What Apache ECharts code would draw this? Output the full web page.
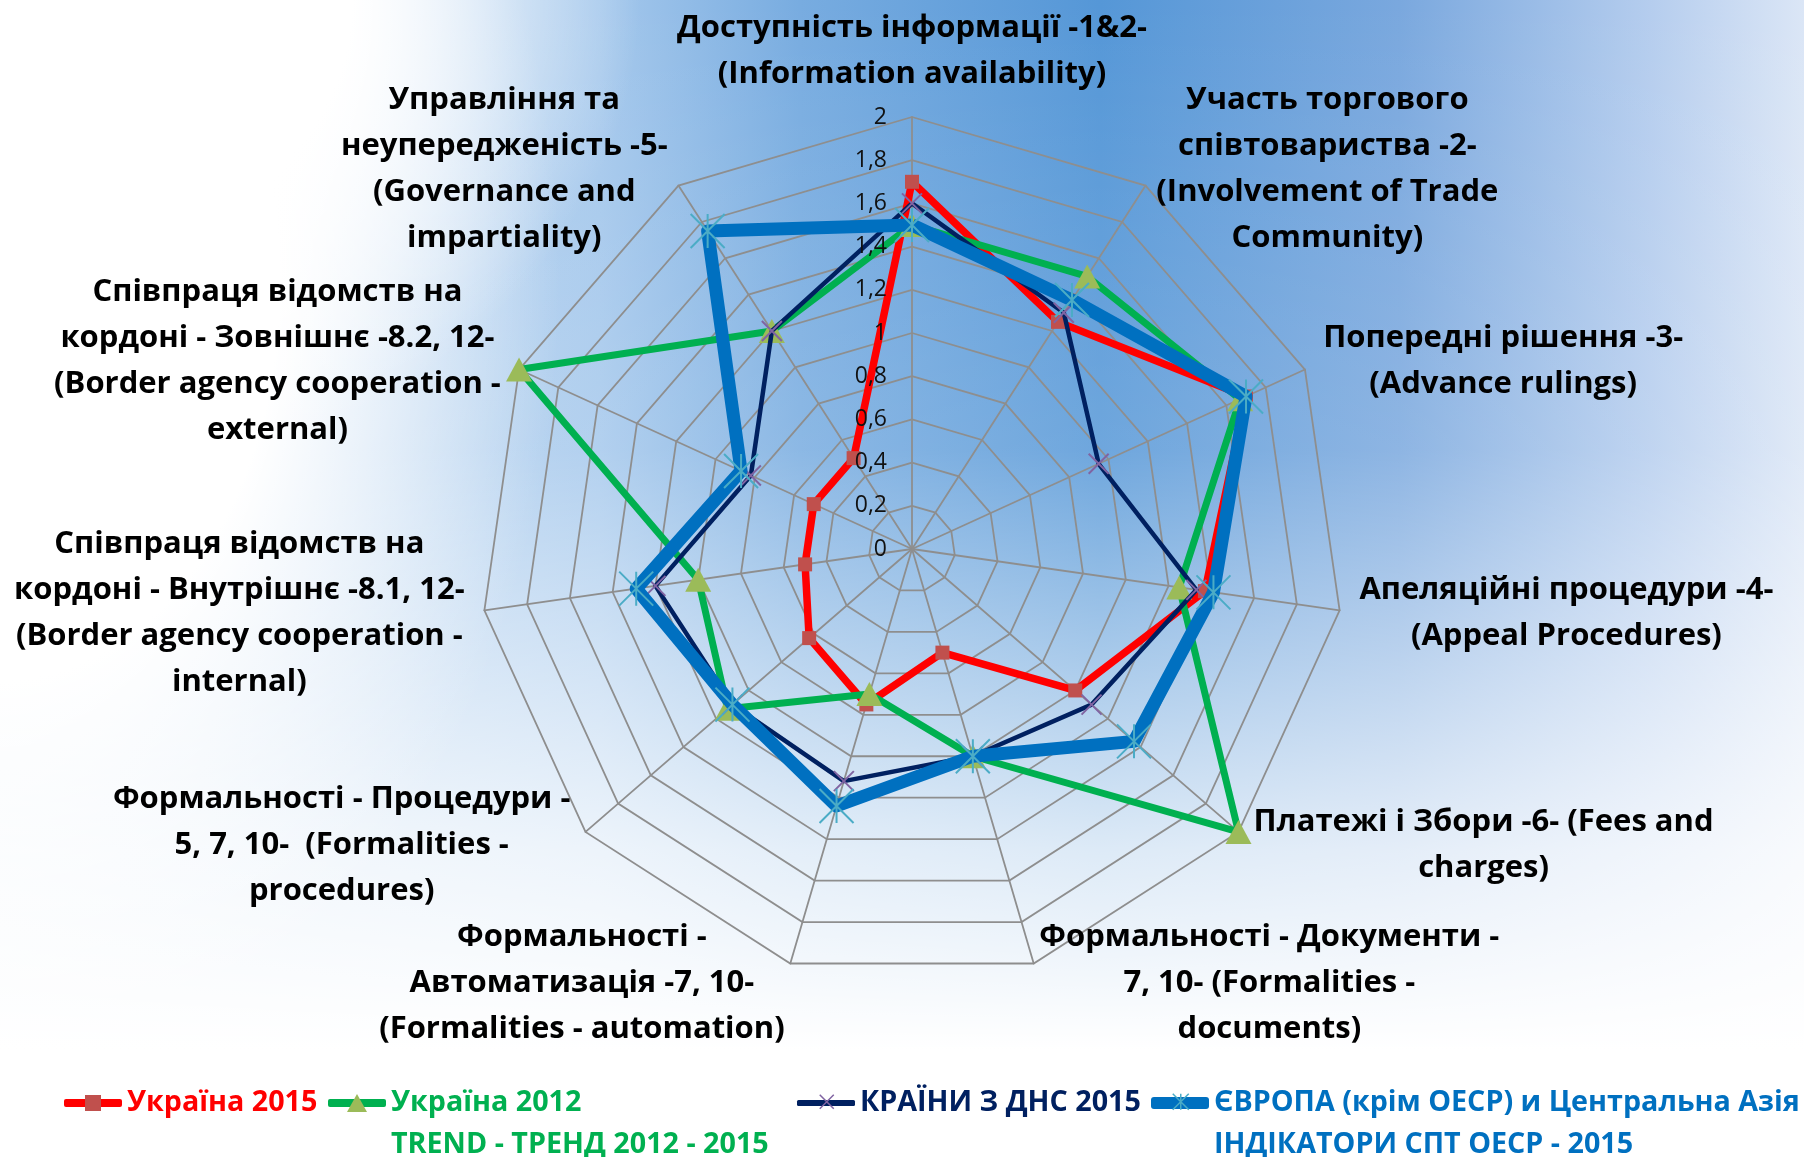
<!DOCTYPE html>
<html>
<head>
<meta charset="utf-8">
<script src="https://cdn.jsdelivr.net/npm/echarts@6/dist/echarts.min.js"></script>
<style>
html, body { margin: 0; padding: 0; }
#chart {
  width: 1804px; height: 1157px;
  background:
    radial-gradient(ellipse 640px 500px at 0px 0px, rgba(255,255,255,1) 0%, rgba(255,255,255,1) 55%, rgba(255,255,255,0) 100%),
    radial-gradient(ellipse 560px 800px at 0px 280px, rgba(255,255,255,1) 0%, rgba(255,255,255,1) 50%, rgba(255,255,255,0) 100%),
    linear-gradient(to bottom, rgba(255,255,255,0) 0px, rgba(255,255,255,0.15) 450px, rgba(255,255,255,0.8) 850px, rgba(255,255,255,1) 1050px, #fff 1157px),
    linear-gradient(to right, #d8e7f6 0px, #a5c8ec 600px, #78ace0 800px, #5597d7 1100px, #7aa8de 1400px, #b5cdee 1650px, #dbe6f6 1804px);
}
</style>
</head>
<body>
<div id="chart"></div>
<script>
// Axis categories (clockwise from the top)
const categories = [
  'Доступність інформації -1&2-\n(Information availability)',
  'Участь торгового\nспівтовариства -2-\n(Involvement of Trade\nCommunity)',
  'Попередні рішення -3-\n(Advance rulings)',
  'Апеляційні процедури -4-\n(Appeal Procedures)',
  'Платежі і Збори -6- (Fees and\ncharges)',
  'Формальності - Документи -\n7, 10- (Formalities -\ndocuments)',
  'Формальності -\nАвтоматизація -7, 10-\n(Formalities - automation)',
  'Формальності - Процедури -\n5, 7, 10-  (Formalities -\nprocedures)',
  'Співпраця відомств на\nкордоні - Внутрішнє -8.1, 12-\n(Border agency cooperation -\ninternal)',
  'Співпраця відомств на\nкордоні - Зовнішнє -8.2, 12-\n(Border agency cooperation -\nexternal)',
  'Управління та\nнеупередженість -5-\n(Governance and\nimpartiality)'
];

const seriesNames = ['Україна 2015', 'Україна 2012', 'КРАЇНИ З ДНС 2015', 'ЄВРОПА (крім ОЕСР) и Центральна Азія'];
const legendNotes = ['', 'TREND - ТРЕНД 2012 - 2015', '', 'ІНДІКАТОРИ СПТ ОЕСР - 2015'];

// Values (clockwise from the top)
const ukraine2015     = [1.70, 1.25, 1.70, 1.37, 1.00, 0.50, 0.75, 0.63, 0.50, 0.50, 0.50];
const ukraine2012     = [1.50, 1.50, 1.67, 1.25, 2.00, 1.00, 0.70, 1.13, 1.00, 2.00, 1.20];
const dcCountries2015 = [1.60, 1.30, 0.95, 1.33, 1.10, 1.00, 1.12, 1.10, 1.20, 0.82, 1.20];
const europeCA2015    = [1.50, 1.37, 1.70, 1.41, 1.36, 1.00, 1.24, 1.10, 1.29, 0.87, 1.75];

const axisMin = 0, axisMax = 2, axisSplits = 10;

// ECharts radar runs counter-clockwise: reorder so the categories go clockwise
const order = [0].concat(categories.map((_, i) => i).slice(1).reverse());
const pick = arr => order.map(i => arr[i]);

const FONT = 'Open Sans';
const CENTER = [912, 549], RADIUS = 432;

const makeIndicator = withLabels => order.map((i, k) => {
  const o = { name: categories[i], min: axisMin, max: axisMax };
  if (withLabels && k === 0) {
    o.axisLabel = {
      show: true, margin: 25, color: '#111', fontSize: 23, fontFamily: FONT,
      formatter: v => String(Math.round(v * 10) / 10).replace('.', ',')
    };
  }
  return o;
});

const xPath = 'path://M0,0L10,10M10,0L0,10';
const starPath = 'path://M0,0L10,10M10,0L0,10M5,0L5,10';

const styles = [
  { line: '#ff0000', width: 7.5, symbol: 'rect', size: 14, item: { color: '#c0504d', borderWidth: 0 } },
  { line: '#00b050', width: 7, symbol: 'triangle', size: [26, 24], item: { color: '#9bbb59', borderWidth: 0 } },
  { line: '#002060', width: 4.5, symbol: xPath, size: 20, item: { color: 'rgba(0,0,0,0)', borderColor: '#8064a2', borderWidth: 2 } },
  { line: '#0070c0', width: 13, symbol: starPath, size: 34, item: { color: 'rgba(0,0,0,0)', borderColor: '#4bacc6', borderWidth: 2 } }
];
const values = [ukraine2015, ukraine2012, dcCountries2015, europeCA2015];

const series = seriesNames.map((name, s) => ({
  type: 'radar',
  radarIndex: 0,
  name: name,
  symbol: styles[s].symbol,
  symbolSize: styles[s].size,
  lineStyle: { color: styles[s].line, width: styles[s].width, join: 'round' },
  itemStyle: styles[s].item,
  emphasis: { disabled: true },
  z: 2 + s,
  data: [{ name: name, value: pick(values[s]) }]
}));

// Legends: a line legend (with text) plus a marker overlay for each series
const legendLeft = [64, 328, 797, 1151];
const iconCenterY = 1103;
const legendLine = 42;
const legendFont = 28.7;
const lineBar = [8, 8, 6, 12];
const markerIcons = ['rect', 'triangle', xPath, starPath];
const markerSize = [[16, 16], [20, 18], [14, 18], [16, 20]];
const legends = [];
seriesNames.forEach((name, s) => {
  const hasNote = !!legendNotes[s];
  const h = lineBar[s];
  legends.push({
    data: [name], left: legendLeft[s], top: iconCenterY - (hasNote ? legendLine * 1.5 : legendLine / 2),
    padding: 0, selectedMode: false, itemWidth: 58, itemHeight: h, itemGap: 0,
    icon: 'roundRect',
    itemStyle: { color: styles[s].line, borderWidth: 0 },
    textStyle: {
      color: styles[s].line, fontFamily: FONT, fontWeight: 'bold', fontSize: legendFont, lineHeight: legendLine,
      rich: {
        sp: { lineHeight: legendLine, fontSize: 10 },
        t: { color: styles[s].line, fontFamily: FONT, fontWeight: 'bold', fontSize: legendFont, lineHeight: legendLine }
      }
    },
    formatter: n => hasNote ? '{sp| }\n{t|' + n + '}\n{t|' + legendNotes[s] + '}' : n
  });
  const ms = markerSize[s];
  legends.push({
    data: [name], left: legendLeft[s] + 29 - ms[0] / 2, top: iconCenterY - ms[1] / 2,
    padding: 0, selectedMode: false, itemWidth: ms[0], itemHeight: ms[1],
    icon: markerIcons[s],
    itemStyle: s >= 2 ? { color: 'rgba(0,0,0,0)', borderColor: styles[s].item.borderColor, borderWidth: 1.5 }
                      : { color: styles[s].item.color, borderWidth: 0 },
    textStyle: { fontSize: 8, lineHeight: 8 },
    formatter: () => ''
  });
});

const gridLine = { color: '#8e8e8e', width: 1.8 };

const chart = echarts.init(document.getElementById('chart'), null, { renderer: 'canvas' });
chart.setOption({
  backgroundColor: 'transparent',
  animation: false,
  legend: legends,
  radar: [
    {
      center: CENTER, radius: RADIUS, startAngle: 90, splitNumber: axisSplits, shape: 'polygon',
      indicator: makeIndicator(false),
      axisNameGap: 20,
      axisName: {
        color: '#000', fontFamily: FONT, fontWeight: 'bold', fontSize: 31,
        formatter: name => name.split('\n').map(l => '{c|' + l + '}').join('\n'),
        rich: { c: { align: 'center', lineHeight: 46, fontSize: 31, fontWeight: 'bold', fontFamily: FONT, color: '#000' } }
      },
      splitLine: { lineStyle: gridLine },
      splitArea: { show: false },
      axisLine: { lineStyle: gridLine },
      axisTick: { show: false },
      axisLabel: { show: false }
    },
    {
      // label layer drawn above the series: tick labels only
      zlevel: 1,
      z: 20,
      center: CENTER, radius: RADIUS, startAngle: 90, splitNumber: axisSplits, shape: 'polygon',
      indicator: makeIndicator(true),
      axisName: { show: false },
      splitLine: { show: false },
      splitArea: { show: false },
      axisLine: { show: false },
      axisTick: { show: false },
      axisLabel: { show: false }
    }
  ],
  series: series
});
</script>
</body>
</html>
